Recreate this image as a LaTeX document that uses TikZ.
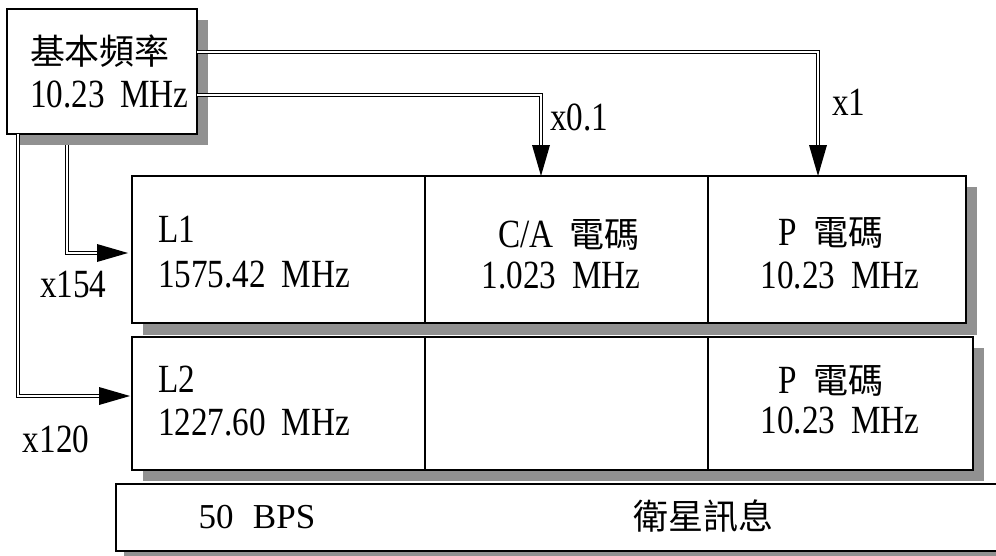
\documentclass[tikz,border=0pt]{standalone}
\usepackage{fontspec}
\setmainfont{Liberation Serif}[FakeStretch=0.83, WordSpace=1.9]
\newfontfamily\cjkfont{Noto Sans CJK TC}
\newfontfamily\tnrfont{Liberation Serif}
\newcommand{\zhtext}[1]{{\cjkfont\fontsize{35pt}{42pt}\selectfont #1}}
\definecolor{shadowgray}{RGB}{145,145,145}
\tikzset{
  cell/.style={draw=black, line width=1.2pt, fill=white, inner sep=0pt, outer sep=0pt},
  shade box/.style={fill=shadowgray, draw=none},
  dbl/.style={draw=black, double=white, double distance=2.4pt, line width=1.2pt},
  head/.style={fill=black, draw=none},
  txt/.style={inner sep=0pt, outer sep=0pt, font=\fontsize{40pt}{48pt}\selectfont},
}
\begin{document}
\begin{tikzpicture}[x=1pt,y=-1pt]
\clip (0,0) rectangle (996,555);
\fill[white] (0,0) rectangle (996,555);

% source box
\path[shade box] (18,20) rectangle (208,145);
\node[cell, minimum width=190pt, minimum height=125pt] (src) at (102,71.5) {};
\node[txt, anchor=base west] (srcA) at (30,64) {\zhtext{基本頻率}};
\node[txt, anchor=base west] (srcB) at (30,107) {10.23 MHz};

% row 1
\path[shade box] (143,187) rectangle (977,335);
\node[cell, minimum width=293pt, minimum height=147pt] (r1a) at (278.5,249.5) {};
\node[cell, minimum width=283pt, minimum height=147pt] (r1b) at (566.5,249.5) {};
\node[cell, minimum width=258pt, minimum height=147pt] (r1c) at (837,249.5) {};
\node[txt, anchor=base west] (t1a1) at (158,242) {L1};
\node[txt, anchor=base west] (t1a2) at (158,287) {1575.42 MHz};
\node[txt, anchor=base] (t1b1) at (569,247) {C/A \zhtext{電碼}};
\node[txt, anchor=base] (t1b2) at (561,288) {1.023 MHz};
\node[txt, anchor=base] (t1c1) at (831,245) {P \zhtext{電碼}};
\node[txt, anchor=base] (t1c2) at (840,288) {10.23 MHz};

% row 2
\path[shade box] (143,348) rectangle (984,481);
\node[cell, minimum width=293pt, minimum height=133pt] (r2a) at (278.5,403.5) {};
\node[cell, minimum width=283pt, minimum height=133pt] (r2b) at (566.5,403.5) {};
\node[cell, minimum width=265pt, minimum height=133pt] (r2c) at (840.5,403.5) {};
\node[txt, anchor=base west] (t2a1) at (158,392) {L2};
\node[txt, anchor=base west] (t2a2) at (158,435) {1227.60 MHz};
\node[txt, anchor=base] (t2c1) at (831,393) {P \zhtext{電碼}};
\node[txt, anchor=base] (t2c2) at (840,433) {10.23 MHz};

% row 3
\path[shade box] (124,492) rectangle (1010,562);
\node[cell, minimum width=894pt, minimum height=67pt] (r3) at (563,517.5) {};
\node[txt, anchor=base, font=\tnrfont\fontsize{35pt}{44pt}\selectfont] (t3a) at (257,528) {50\hspace{0.55em}BPS};
\node[txt, anchor=base] (t3b) at (703,529) {\zhtext{衛星訊息}};

% connector coordinates
\coordinate (sA) at (197,52);
\coordinate (sB) at (197,95);
\coordinate (sC) at (18,134);
\coordinate (sD) at (67,145);
\coordinate (tA) at (818,176);
\coordinate (tB) at (541,176);
\coordinate (tC) at (130,396);
\coordinate (tD) at (128,253);

% double connectors (end at the arrow-head base)
\draw[dbl] (sA) -| ([yshift=30pt]tA);
\draw[dbl] (sB) -| ([yshift=30pt]tB);
\draw[dbl] (sC) |- ([xshift=-30pt]tC);
\draw[dbl] (sD) |- ([xshift=-30pt]tD);

% arrow heads
\fill[head] (tA) -- ++(-9,-31) -- ++(18,0) -- cycle;
\fill[head] (tB) -- ++(-9,-31) -- ++(18,0) -- cycle;
\fill[head] (tC) -- ++(-31,-9) -- ++(0,18) -- cycle;
\fill[head] (tD) -- ++(-31,-9) -- ++(0,18) -- cycle;

% factor labels
\node[txt, anchor=base west] (lA) at (832,115) {x1};
\node[txt, anchor=base west] (lB) at (550,130) {x0.1};
\node[txt, anchor=base west] (lD) at (40,297) {x154};
\node[txt, anchor=base west] (lC) at (23,452) {x120};
\end{tikzpicture}
\end{document}
